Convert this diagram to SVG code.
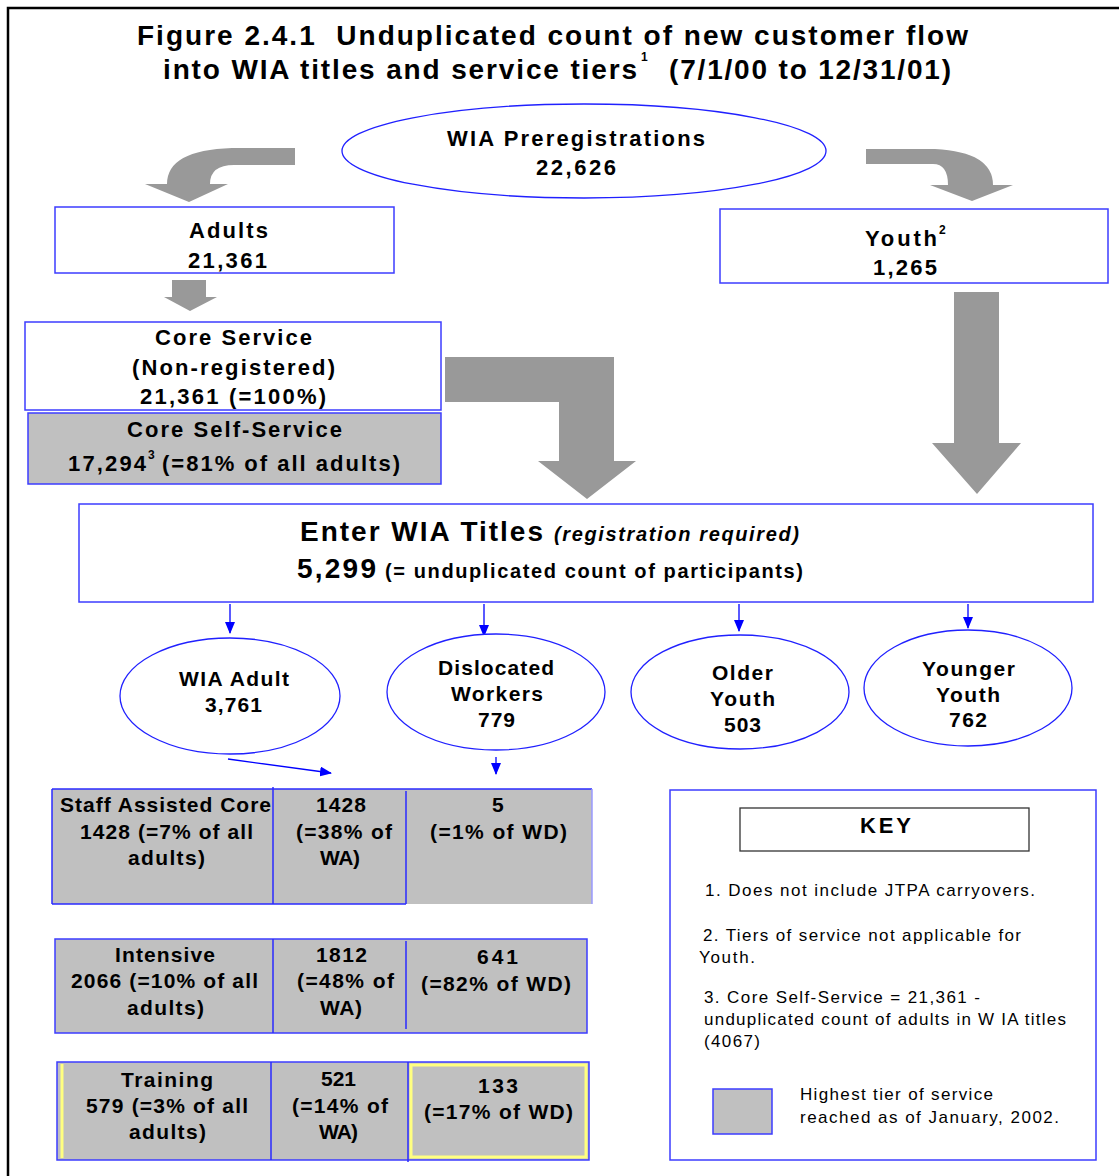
<svg xmlns="http://www.w3.org/2000/svg" width="1119" height="1176" viewBox="0 0 1119 1176">
<style>
text{font-family:"Liberation Sans",Arial,sans-serif;fill:#000}
.b{font-weight:bold;font-size:21px}
.n{font-weight:bold;font-size:22px}
.t{font-weight:bold;font-size:28px}
.sup{font-weight:bold;font-size:12px}
.k{font-size:17px}
.box{fill:#fff;stroke:#3c3cff;stroke-width:1.5}
.gbox{fill:#c0c0c0;stroke:#3c3cff;stroke-width:1.5}
.gray{fill:#c0c0c0}
.ell{fill:#fff;stroke:#2020ff;stroke-width:1.3}
.big{fill:#999}
.con{stroke:#0000ff;stroke-width:1.3;fill:none}
.div{stroke:#2a2aff;stroke-width:1.5}
.lt{stroke:#9a9aff;stroke-width:1.5}
.yel{fill:none;stroke:#ffff80;stroke-width:3}
</style>
<defs>
<marker id="ah" markerUnits="userSpaceOnUse" markerWidth="12" markerHeight="10" refX="11" refY="5" orient="auto">
<path d="M0,0 L12,5 L0,10 Z" fill="#0000ff"/>
</marker>
</defs>
<rect x="0" y="0" width="1119" height="1176" fill="#fff"/>
<rect x="8" y="8" width="1130" height="1190" fill="none" stroke="#000" stroke-width="2.5"/>

<g id="title">
<text class="t" x="137" y="45" textLength="831" lengthAdjust="spacing" xml:space="preserve">Figure 2.4.1  Unduplicated count of new customer flow</text>
<text class="t" x="163" y="79" textLength="474" lengthAdjust="spacing">into WIA titles and service tiers</text>
<text class="sup" x="641" y="61">1</text>
<text class="t" x="669" y="79" textLength="282" lengthAdjust="spacing">(7/1/00 to 12/31/01)</text>
</g>

<g id="connectors">
<path class="big" d="M295,148 L232,148 Q167,150 167,184 L145,184 L189,202 L228,184 L210,184 Q210,165 234,165 L295,165 Z"/>
<path class="big" d="M866,149 L935,149 Q993,152 993,185 L1013,185 L972,201 L930,185 L948,185 Q948,164 933,164 L866,164 Z"/>
<path class="big" d="M172,280 L206,280 L206,297 L217,297 L190,311 L164,297 L172,297 Z"/>
<path class="big" d="M445,357 L614,357 L614,461 L636,461 L587,499 L538,461 L559,461 L559,402 L445,402 Z"/>
<path class="big" d="M954,292 L999,292 L999,443 L1021,443 L977,494 L932,443 L954,443 Z"/>
<line class="con" x1="230" y1="604" x2="230" y2="633" marker-end="url(#ah)"/>
<line class="con" x1="484" y1="604" x2="484" y2="636" marker-end="url(#ah)"/>
<line class="con" x1="739" y1="604" x2="739" y2="631" marker-end="url(#ah)"/>
<line class="con" x1="968" y1="604" x2="968" y2="628" marker-end="url(#ah)"/>
<line class="con" x1="228" y1="759" x2="331" y2="773" marker-end="url(#ah)"/>
<line class="con" x1="496" y1="757" x2="496" y2="774" marker-end="url(#ah)"/>
</g>

<g id="prereg">
<ellipse class="ell" cx="584" cy="151" rx="242" ry="47"/>
<text class="n" x="447" y="146" textLength="258" lengthAdjust="spacing">WIA Preregistrations</text>
<text class="n" x="536" y="175" textLength="80" lengthAdjust="spacing">22,626</text>
</g>

<g id="adults">
<rect class="box" x="55" y="207" width="339" height="66"/>
<text class="n" x="189" y="238" textLength="79" lengthAdjust="spacing">Adults</text>
<text class="n" x="188" y="268" textLength="79" lengthAdjust="spacing">21,361</text>
</g>

<g id="youth">
<rect class="box" x="720" y="209" width="388" height="74"/>
<text class="n" x="865" y="246" textLength="72" lengthAdjust="spacing">Youth</text>
<text class="sup" x="939" y="234">2</text>
<text class="n" x="873" y="275" textLength="64" lengthAdjust="spacing">1,265</text>
</g>

<g id="core-service">
<rect class="box" x="25" y="322" width="416" height="88"/>
<text class="n" x="155" y="345" textLength="157" lengthAdjust="spacing">Core Service</text>
<text class="n" x="132" y="375" textLength="203" lengthAdjust="spacing">(Non-registered)</text>
<text class="n" x="140" y="404" textLength="186" lengthAdjust="spacing">21,361 (=100%)</text>
</g>

<g id="core-self-service">
<rect class="gbox" x="28" y="413" width="413" height="71"/>
<text class="n" x="127" y="437" textLength="215" lengthAdjust="spacing">Core Self-Service</text>
<text class="n" x="68" y="471" textLength="78" lengthAdjust="spacing">17,294</text>
<text class="sup" x="148" y="459">3</text>
<text class="n" x="162" y="471" textLength="238" lengthAdjust="spacing">(=81% of all adults)</text>
</g>

<g id="enter-wia">
<rect class="box" x="79" y="504" width="1014" height="98"/>
<text x="300" y="541" font-weight="bold" font-size="28" textLength="243" lengthAdjust="spacing">Enter WIA Titles</text>
<text x="554" y="541" font-weight="bold" font-style="italic" font-size="20" textLength="245" lengthAdjust="spacing">(registration required)</text>
<text x="297" y="578" font-weight="bold" font-size="28" textLength="79" lengthAdjust="spacing">5,299</text>
<text x="385" y="578" font-weight="bold" font-size="20" textLength="418" lengthAdjust="spacing">(= unduplicated count of participants)</text>
</g>

<g id="wia-adult">
<ellipse class="ell" cx="230" cy="696" rx="110" ry="58"/>
<text class="b" x="179" y="686" textLength="110" lengthAdjust="spacing">WIA Adult</text>
<text class="b" x="205" y="712" textLength="57" lengthAdjust="spacing">3,761</text>
</g>

<g id="dislocated">
<ellipse class="ell" cx="496" cy="692" rx="109" ry="58"/>
<text class="b" x="438" y="675" textLength="116" lengthAdjust="spacing">Dislocated</text>
<text class="b" x="451" y="701" textLength="92" lengthAdjust="spacing">Workers</text>
<text class="b" x="478" y="727" textLength="37" lengthAdjust="spacing">779</text>
</g>

<g id="older-youth">
<ellipse class="ell" cx="740" cy="692" rx="109" ry="57"/>
<text class="b" x="712" y="680" textLength="61" lengthAdjust="spacing">Older</text>
<text class="b" x="710" y="706" textLength="65" lengthAdjust="spacing">Youth</text>
<text class="b" x="724" y="732" textLength="37" lengthAdjust="spacing">503</text>
</g>

<g id="younger-youth">
<ellipse class="ell" cx="968" cy="688" rx="104" ry="58"/>
<text class="b" x="922" y="676" textLength="93" lengthAdjust="spacing">Younger</text>
<text class="b" x="936" y="702" textLength="64" lengthAdjust="spacing">Youth</text>
<text class="b" x="949" y="727" textLength="38" lengthAdjust="spacing">762</text>
</g>

<g id="staff-assisted">
<rect class="gray" x="52" y="789" width="540" height="115"/>
<line class="div" x1="52" y1="789" x2="592" y2="789"/>
<line class="div" x1="52" y1="789" x2="52" y2="904"/>
<line class="div" x1="52" y1="904" x2="406" y2="904"/>
<line class="lt" x1="592" y1="789" x2="592" y2="904"/>
<line class="div" x1="273" y1="787" x2="273" y2="904"/>
<line class="div" x1="406" y1="791" x2="406" y2="904"/>
<text class="b" x="60" y="812" textLength="211" lengthAdjust="spacing">Staff Assisted Core</text>
<text class="b" x="80" y="839" textLength="173" lengthAdjust="spacing">1428 (=7% of all</text>
<text class="b" x="128" y="865" textLength="77" lengthAdjust="spacing">adults)</text>
<text class="b" x="316" y="812" textLength="50" lengthAdjust="spacing">1428</text>
<text class="b" x="296" y="839" textLength="96" lengthAdjust="spacing">(=38% of</text>
<text class="b" x="320" y="865" textLength="40" lengthAdjust="spacing">WA)</text>
<text class="b" x="492" y="812" textLength="11" lengthAdjust="spacing">5</text>
<text class="b" x="430" y="839" textLength="137" lengthAdjust="spacing">(=1% of WD)</text>
</g>

<g id="intensive">
<rect class="gbox" x="55" y="939" width="532" height="94"/>
<line class="div" x1="273" y1="939" x2="273" y2="1033"/>
<line class="div" x1="406" y1="941" x2="406" y2="1029"/>
<text class="b" x="115" y="962" textLength="100" lengthAdjust="spacing">Intensive</text>
<text class="b" x="71" y="988" textLength="187" lengthAdjust="spacing">2066 (=10% of all</text>
<text class="b" x="127" y="1015" textLength="77" lengthAdjust="spacing">adults)</text>
<text class="b" x="316" y="962" textLength="51" lengthAdjust="spacing">1812</text>
<text class="b" x="297" y="988" textLength="97" lengthAdjust="spacing">(=48% of</text>
<text class="b" x="320" y="1015" textLength="42" lengthAdjust="spacing">WA)</text>
<text class="b" x="477" y="964" textLength="41" lengthAdjust="spacing">641</text>
<text class="b" x="421" y="991" textLength="150" lengthAdjust="spacing">(=82% of WD)</text>
</g>

<g id="training">
<rect class="gbox" x="57" y="1062" width="532" height="98"/>
<line class="yel" x1="62" y1="1064" x2="62" y2="1158"/>
<rect class="yel" x="411" y="1065" width="175" height="92"/>
<line class="div" x1="271" y1="1062" x2="271" y2="1160"/>
<line class="div" x1="408" y1="1062" x2="408" y2="1162"/>
<text class="b" x="121" y="1087" textLength="92" lengthAdjust="spacing">Training</text>
<text class="b" x="86" y="1113" textLength="162" lengthAdjust="spacing">579 (=3% of all</text>
<text class="b" x="129" y="1139" textLength="77" lengthAdjust="spacing">adults)</text>
<text class="b" x="321" y="1086" textLength="35" lengthAdjust="spacing">521</text>
<text class="b" x="292" y="1113" textLength="96" lengthAdjust="spacing">(=14% of</text>
<text class="b" x="319" y="1139" textLength="39" lengthAdjust="spacing">WA)</text>
<text class="b" x="478" y="1093" textLength="40" lengthAdjust="spacing">133</text>
<text class="b" x="424" y="1119" textLength="149" lengthAdjust="spacing">(=17% of WD)</text>
</g>

<g id="key">
<rect class="box" x="670" y="790" width="426" height="370"/>
<rect x="740" y="808" width="289" height="43" fill="#fff" stroke="#333" stroke-width="1.3"/>
<text x="860" y="833" font-weight="bold" font-size="22" textLength="51" lengthAdjust="spacing">KEY</text>
<text class="k" x="705" y="896" textLength="330" lengthAdjust="spacing">1. Does not include JTPA carryovers.</text>
<text class="k" x="703" y="941" textLength="318" lengthAdjust="spacing">2. Tiers of service not applicable for</text>
<text class="k" x="699" y="963" textLength="56" lengthAdjust="spacing">Youth.</text>
<text class="k" x="704" y="1003" textLength="276" lengthAdjust="spacing">3. Core Self-Service = 21,361 -</text>
<text class="k" x="704" y="1025" textLength="362" lengthAdjust="spacing">unduplicated count of adults in W IA titles</text>
<text class="k" x="704" y="1047" textLength="56" lengthAdjust="spacing">(4067)</text>
<rect class="gbox" x="713" y="1089" width="59" height="45"/>
<text class="k" x="800" y="1100" textLength="193" lengthAdjust="spacing">Highest tier of service</text>
<text class="k" x="800" y="1123" textLength="259" lengthAdjust="spacing">reached as of January, 2002.</text>
</g>
</svg>
